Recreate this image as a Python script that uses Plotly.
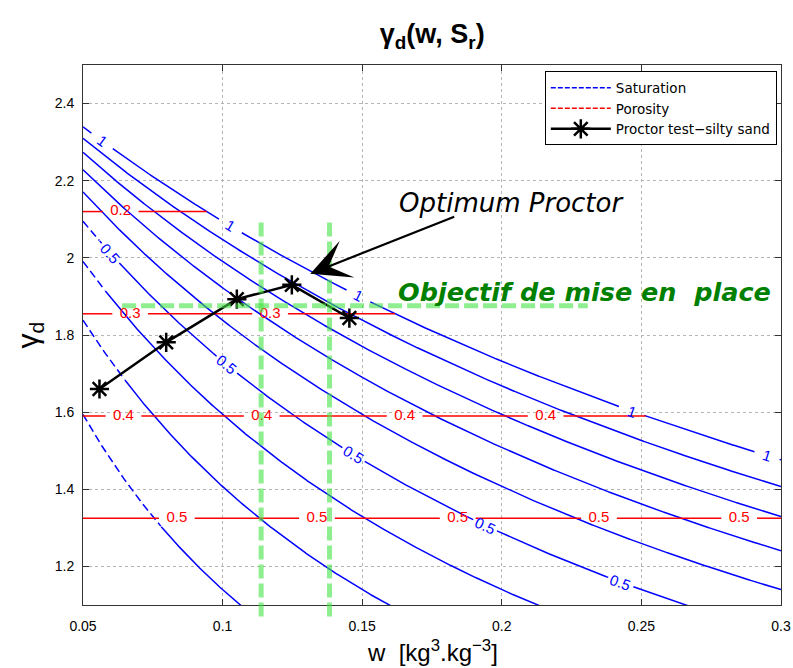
import numpy as np
import plotly.graph_objects as go

# Soil constants
GS = 2.65          # specific gravity of solids
GAMMA_W = 1.0      # unit weight of water

# Iso-saturation levels
SR_LEVELS = [0.2, 0.3, 0.4, 0.5, 0.6, 0.7, 0.8, 0.9, 1.0]
# where the inline labels sit (water content) on the labelled levels
SR_LABEL_W = {
    0.5: [0.0598, 0.1015, 0.1469, 0.1940, 0.2426],
    1.0: [0.0568, 0.1028, 0.1486, 0.2465, 0.2950],
}
# left part of some curves is drawn dashed
SR_DASHED_UNTIL = {0.2: 0.078, 0.3: 0.065, 0.4: 0.058, 0.5: 0.0560}

# Porosity levels (horizontal lines) and where their labels sit along w
POROSITY = [0.2, 0.3, 0.4, 0.5]
POROSITY_LABEL_W = {
    0.2: [0.0635],
    0.3: [0.0669, 0.1170],
    0.4: [0.0645, 0.1140, 0.1652, 0.2157],
    0.5: [0.0836, 0.1338, 0.1842, 0.2348, 0.2850],
}

# Proctor test on a silty sand
PROCTOR_W = [0.0559, 0.0798, 0.1051, 0.1248, 0.1454]
PROCTOR_GAMMA = [1.660, 1.781, 1.893, 1.930, 1.844]

# Placement target window
TARGET_W = [0.1138, 0.1383]
TARGET_GAMMA = 1.876
TARGET_SPAN_W = [0.064, 0.2308]
TARGET_SPAN_GAMMA = [1.07, 2.094]

X_RANGE = [0.05, 0.3]
Y_RANGE = [1.1, 2.5]

BLUE = "rgb(0,0,255)"
RED = "rgb(255,0,0)"
FONT = "Liberation Sans"

WIDTH, HEIGHT = 793, 668
MARGIN = dict(l=83, r=12, t=65, b=63)
KX = (WIDTH - MARGIN["l"] - MARGIN["r"]) / (X_RANGE[1] - X_RANGE[0])
KY = (HEIGHT - MARGIN["t"] - MARGIN["b"]) / (Y_RANGE[1] - Y_RANGE[0])


def gamma_d(w, sr):
    """Dry unit weight for water content w at saturation sr."""
    return GS * GAMMA_W / (1.0 + w * GS / (sr * GAMMA_W))


fig = go.Figure()
annotations = []

w = np.linspace(X_RANGE[0], X_RANGE[1], 1500)
label_half_px = 13.0

for sr in SR_LEVELS:
    gd = gamma_d(w, sr)
    visible = np.ones_like(w, dtype=bool)
    for wl in SR_LABEL_W.get(sr, []):
        gl = gamma_d(wl, sr)
        h = 1e-5
        slope = (gamma_d(wl + h, sr) - gamma_d(wl - h, sr)) / (2 * h)
        dw = label_half_px / np.hypot(KX, KY * slope)
        visible &= ~((w > wl - dw) & (w < wl + dw))
        angle = np.degrees(np.arctan(-slope * KY / KX))
        annotations.append(dict(
            x=wl, y=gl, text=f"{sr:g}", showarrow=False, textangle=angle,
            font=dict(family=FONT, size=15, color=BLUE),
        ))
    thr = SR_DASHED_UNTIL.get(sr, X_RANGE[0])
    solid = visible & (w >= thr)
    dashed = visible & (w <= thr)
    fig.add_trace(go.Scatter(
        x=w, y=np.where(solid, gd, np.nan), mode="lines", connectgaps=False,
        line=dict(color=BLUE, width=1.5), showlegend=False, hoverinfo="skip"))
    if dashed.any():
        fig.add_trace(go.Scatter(
            x=w, y=np.where(dashed, gd, np.nan), mode="lines", connectgaps=False,
            line=dict(color=BLUE, width=1.5, dash="8px,4px"),
            showlegend=False, hoverinfo="skip"))

# Porosity lines, stopped where saturation would exceed 1, with label gaps
gap = 0.0064
lx, ly, tx, ty, tt = [], [], [], [], []
for n in POROSITY:
    gd = GS * GAMMA_W * (1 - n)
    w_end = min(X_RANGE[1], n / (GS * (1 - n)))
    xs = [X_RANGE[0]]
    for p in POROSITY_LABEL_W[n]:
        xs += [p - gap, None, p + gap]
        tx.append(p)
        ty.append(gd)
        tt.append(f"{n:g}")
    xs.append(w_end)
    lx += xs + [None]
    ly += [gd if v is not None else None for v in xs] + [None]

fig.add_trace(go.Scatter(x=lx, y=ly, mode="lines", line=dict(color=RED, width=1.5),
                         showlegend=False, hoverinfo="skip"))
fig.add_trace(go.Scatter(x=tx, y=ty, mode="text", text=tt,
                         textfont=dict(family=FONT, size=15, color=RED),
                         showlegend=False, hoverinfo="skip"))

# Legend entries
fig.add_trace(go.Scatter(x=[None], y=[None], mode="lines", name="Saturation",
                         line=dict(color=BLUE, width=1.5, dash="5px,2px")))
fig.add_trace(go.Scatter(x=[None], y=[None], mode="lines", name="Porosity",
                         line=dict(color=RED, width=1.5, dash="5px,2px")))

# Proctor curve
fig.add_trace(go.Scatter(
    x=PROCTOR_W, y=PROCTOR_GAMMA, mode="lines+markers",
    name="Proctor test\u2212silty sand",
    line=dict(color="black", width=2.5),
    marker=dict(symbol="asterisk-open", size=16, color="black",
                line=dict(color="black", width=2.5)),
))

# Target window (green dashed)
green = dict(color="rgb(70,227,70)", width=5, dash="14px,5px")
span = Y_RANGE[1] - Y_RANGE[0]
shapes = []
for xv in TARGET_W:
    shapes.append(dict(type="line", xref="x", yref="paper", x0=xv, x1=xv,
                       y0=(TARGET_SPAN_GAMMA[0] - Y_RANGE[0]) / span,
                       y1=(TARGET_SPAN_GAMMA[1] - Y_RANGE[0]) / span,
                       line=green, opacity=0.6, layer="above"))
shapes.append(dict(type="line", xref="x", yref="y",
                   x0=TARGET_SPAN_W[0], x1=TARGET_SPAN_W[1],
                   y0=TARGET_GAMMA, y1=TARGET_GAMMA,
                   line=green, opacity=0.6, layer="above"))

# Text annotations
annotations += [
    dict(x=PROCTOR_W[3] + 0.0066, y=PROCTOR_GAMMA[3] + 0.029,
         ax=0.1835, ay=2.108, axref="x", ayref="y",
         text="", showarrow=True, arrowhead=3, arrowsize=3.0,
         arrowwidth=2.2, arrowcolor="black"),
    dict(x=0.2035, y=2.142, text="Optimum Proctor", showarrow=False,
         font=dict(family="DejaVu Sans", size=26, color="black", style="italic")),
    dict(x=0.2295, y=1.912, text="<b>Objectif de mise en  place</b>", showarrow=False,
         font=dict(family="DejaVu Sans", size=25.5, color="rgb(0,128,0)",
                   style="italic")),
    dict(xref="paper", yref="paper", x=0.5, y=-0.085, yanchor="middle",
         text="w  [kg<sup>3</sup>.kg<sup>\u22123</sup>]", showarrow=False,
         font=dict(family=FONT, size=24, color="black")),
    dict(xref="paper", yref="paper", x=-0.078, y=0.5, xanchor="center",
         yanchor="middle", text="\u03b3<sub>d</sub>", textangle=-90,
         showarrow=False, font=dict(family=FONT, size=30, color="black")),
]

axis = dict(
    showline=True, linecolor="#333333", linewidth=1, mirror="allticks",
    ticks="inside", ticklen=6, tickcolor="#333333", automargin=False,
    showgrid=True, gridcolor="#b5b5b5", griddash="dot", gridwidth=1,
    zeroline=False, tickfont=dict(family=FONT, size=14, color="black"),
)

fig.update_layout(
    template="none",
    width=WIDTH, height=HEIGHT,
    margin=dict(MARGIN, autoexpand=False),
    paper_bgcolor="white", plot_bgcolor="white",
    title=dict(text="<b>\u03b3<sub>d</sub>(w, S<sub>r</sub>)</b>",
               x=0.545, xanchor="center", y=0.95, yanchor="middle",
               font=dict(family=FONT, size=27, color="black")),
    xaxis=dict(axis, range=X_RANGE, tickvals=[0.05, 0.1, 0.15, 0.2, 0.25, 0.3],
               ticktext=["0.05", "0.1", "0.15", "0.2", "0.25", "0.3"],
               ticklabelstandoff=8),
    yaxis=dict(axis, range=Y_RANGE, tickvals=[1.2, 1.4, 1.6, 1.8, 2.0, 2.2, 2.4],
               ticktext=["1.2", "1.4", "1.6", "1.8", "2", "2.2", "2.4"],
               ticklabelstandoff=5),
    legend=dict(x=0.994, y=0.988, xanchor="right", yanchor="top",
                bgcolor="white", bordercolor="black", borderwidth=1,
                font=dict(family="DejaVu Sans", size=13.5, color="black"),
                tracegroupgap=0, itemwidth=60),
    showlegend=True,
    shapes=shapes,
    annotations=annotations,
)

fig.write_html("out.html")
